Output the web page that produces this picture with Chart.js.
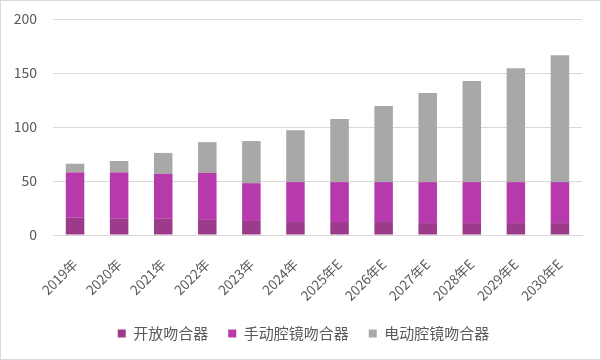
<!DOCTYPE html>
<html>
<head>
<meta charset="utf-8">
<script src="https://cdn.jsdelivr.net/npm/chart.js@4.4.1/dist/chart.umd.min.js"></script>
<style>
  html, body { margin: 0; padding: 0; background: #fff; }
  #wrap { width: 599px; height: 358px; border: 1px solid #d9d9d9; position: relative; }
  canvas { display: block; }
</style>
</head>
<body>
<div id="wrap"><canvas id="c" width="599" height="358"></canvas></div>
<script>
// 年份
var categories = ['2019年', '2020年', '2021年', '2022年', '2023年', '2024年',
  '2025年E', '2026年E', '2027年E', '2028年E', '2029年E', '2030年E'];
// 各类吻合器（堆叠值）
var openStapler = [16, 15, 15, 14, 13, 12, 12, 12, 11, 11, 11, 11];
var manualStapler = [42, 43, 41.5, 43.5, 35, 37, 37, 37, 38, 38, 38, 38];
var electricStapler = [8, 10.5, 19.5, 28.5, 39, 48, 58.5, 70.5, 82.5, 93.5, 105.5, 117.5];
var yTicks = [0, 50, 100, 150, 200];

var textColor = '#595959';
var font = 'Microsoft YaHei, "Noto Sans CJK SC", sans-serif';

// legend sits a bit right of centre in the original
var legendShift = {
  id: 'legendShift',
  afterLayout: function (chart) {
    chart.legend.left += 12;
    chart.legend.right += 12;
  }
};

new Chart(document.getElementById('c'), {
  type: 'bar',
  data: {
    labels: categories,
    datasets: [
      { label: '开放吻合器', data: openStapler, backgroundColor: '#9c3a8b' },
      { label: '手动腔镜吻合器', data: manualStapler, backgroundColor: '#b63aab' },
      { label: '电动腔镜吻合器', data: electricStapler, backgroundColor: '#a8a8a8' }
    ]
  },
  plugins: [legendShift],
  options: {
    responsive: false,
    animation: false,
    layout: { padding: { left: 0, right: 18, top: 18, bottom: 8 } },
    datasets: { bar: { barPercentage: 0.42, categoryPercentage: 1 } },
    plugins: {
      legend: {
        position: 'bottom',
        labels: {
          boxWidth: 8, boxHeight: 8, padding: 20,
          color: textColor,
          font: { family: font, size: 15 }
        }
      },
      tooltip: { enabled: false }
    },
    scales: {
      x: {
        stacked: true,
        grid: { display: false },
        border: { color: '#d9d9d9' },
        ticks: {
          color: textColor, maxRotation: 45, minRotation: 45, padding: 13,
          font: { family: font, size: 13.5 }
        },
        afterFit: function (s) { s.height = 71; s.paddingLeft = 0; s.paddingRight = 0; }
      },
      y: {
        stacked: true,
        min: 0, max: 200,
        afterBuildTicks: function (axis) { axis.ticks = yTicks.map(function (v) { return { value: v }; }); },
        grid: { color: '#d9d9d9', drawTicks: false },
        border: { display: false },
        ticks: {
          color: textColor, padding: 16,
          font: { family: font, size: 14 }
        },
        afterFit: function (s) { s.width = 52; s.paddingTop = 0; s.paddingBottom = 0; }
      }
    }
  }
});
</script>
</body>
</html>
